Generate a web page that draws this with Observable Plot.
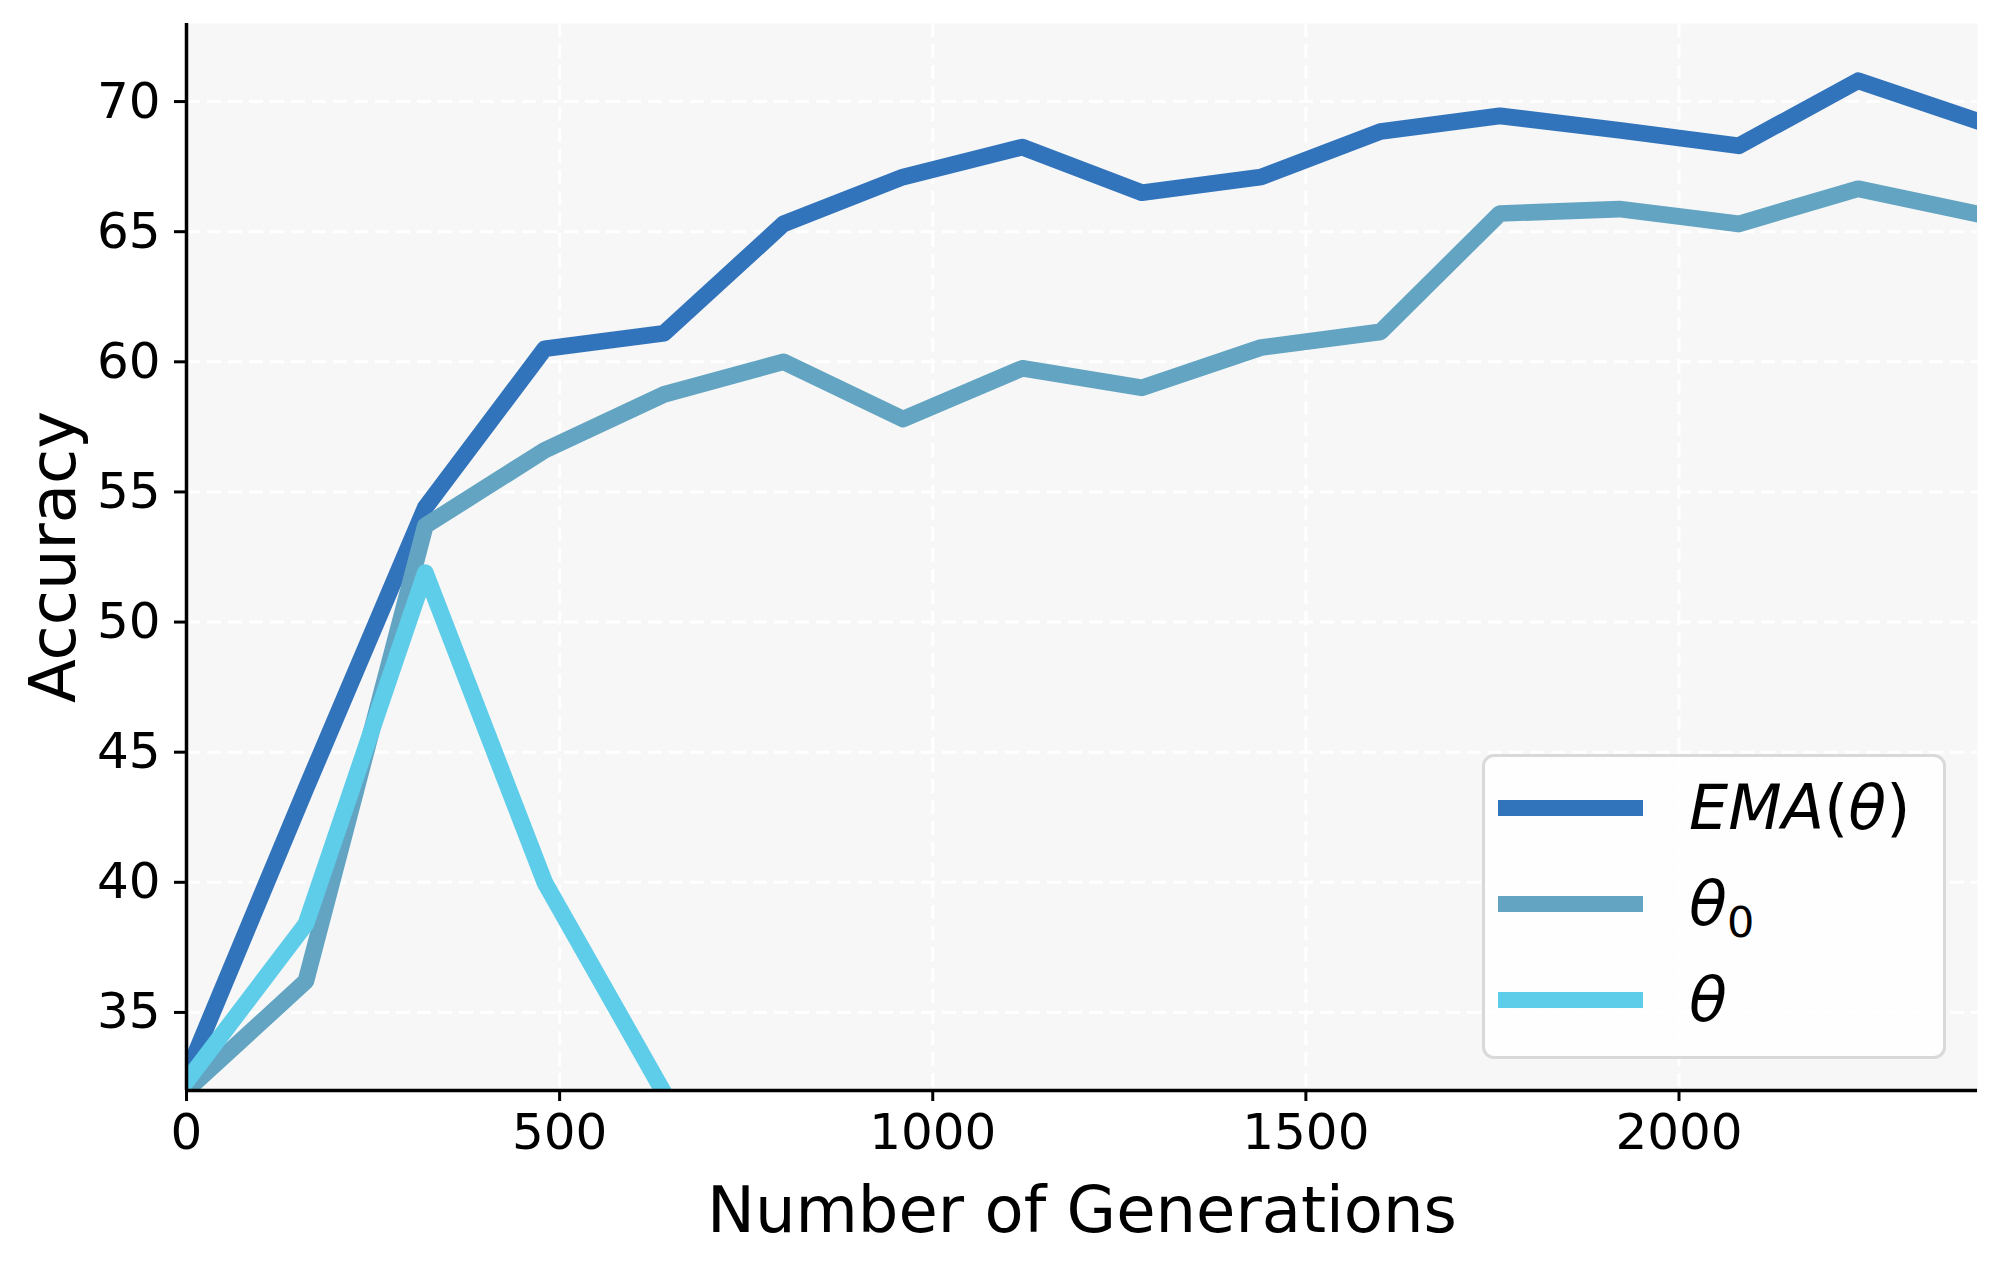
<!DOCTYPE html>
<html>
<head>
<meta charset="utf-8">
<script src="https://cdn.jsdelivr.net/npm/d3@7"></script>
<script src="https://cdn.jsdelivr.net/npm/@observablehq/plot@0.6"></script>
<style>
  html, body { margin: 0; padding: 0; background: #ffffff; }
  #wrap { position: relative; width: 2000px; height: 1261px; font-family: "DejaVu Sans", sans-serif; }
  #legend {
    position: absolute; left: 1482px; top: 754px; width: 464px; height: 305px;
    box-sizing: border-box; border: 3px solid #d9d9d9; border-radius: 12px;
    background: rgba(255,255,255,0.8);
  }
  .row { position: absolute; left: 0; height: 0; }
  .swatch { position: absolute; left: 13px; width: 145px; height: 16px; top: -8px; }
  .lab { position: absolute; left: 204px; top: -38px; font-size: 62px; line-height: 76px; white-space: nowrap; color: #000; }
  .lab i { font-style: italic; }
  .lab sub { font-size: 43px; vertical-align: -12px; line-height: 0; }
</style>
</head>
<body>
<div id="wrap"></div>
<script>
// ---- data ----
const generations = [0, 160, 320, 480, 640, 800, 960, 1120, 1280, 1440, 1600, 1760, 1920, 2080, 2240, 2400];
const emaTheta    = [32.6, 43.6, 54.4, 60.5, 61.1, 65.3, 67.1, 68.25, 66.5, 67.1, 68.85, 69.45, 68.9, 68.3, 70.8, 69.25];
const theta0      = [32.0, 36.2, 53.7, 56.6, 58.75, 60.0, 57.8, 59.75, 59.0, 60.55, 61.15, 65.7, 65.87, 65.3, 66.65, 65.68];
const thetaGens   = [0, 160, 320, 480, 640];
const theta       = [32.35, 38.4, 51.9, 40.0, 31.9];
const seriesNames = ["EMA(θ)", "θ0", "θ"];
const seriesColors = ["#3274bc", "#62a4c2", "#5ecde9"];
const xTicks = [0, 500, 1000, 1500, 2000];
const yTicks = [35, 40, 45, 50, 55, 60, 65, 70];

const rows = [];
generations.forEach((g, i) => rows.push({series: seriesNames[0], x: g, y: emaTheta[i]}));
generations.forEach((g, i) => rows.push({series: seriesNames[1], x: g, y: theta0[i]}));
thetaGens.forEach((g, i) => rows.push({series: seriesNames[2], x: g, y: theta[i]}));

const lineMarks = seriesNames.map((name, k) =>
  Plot.line(rows.filter(d => d.series === name), {
    x: "x", y: "y", stroke: seriesColors[k], strokeWidth: 16.7,
    strokeLinejoin: "round", strokeLinecap: "square", clip: true
  })
);

const chart = Plot.plot({
  width: 2000,
  height: 1261,
  marginLeft: 186,
  marginRight: 23,
  marginTop: 23,
  marginBottom: 171,
  style: { background: "#ffffff", fontFamily: "DejaVu Sans, sans-serif", fontSize: "50px", color: "#000" },
  x: { domain: [0, 2400] },
  y: { domain: [32, 73] },
  marks: [
    Plot.frame({ fill: "#f7f7f7", stroke: null }),
    Plot.gridX(xTicks, { stroke: "#ffffff", strokeOpacity: 1, strokeWidth: 3, strokeDasharray: "14,7" }),
    Plot.gridY(yTicks, { stroke: "#ffffff", strokeOpacity: 1, strokeWidth: 3, strokeDasharray: "14,7" }),
    ...lineMarks,
    Plot.axisX(xTicks, { tickSize: 11, tickPadding: 12, strokeWidth: 3, fontSize: 50, label: null, tickFormat: d => String(d) }),
    Plot.axisY(yTicks, { tickSize: 12, tickPadding: 14, strokeWidth: 3, fontSize: 50, label: null, tickFormat: d => String(d) }),
    Plot.ruleX([0], { stroke: "#000", strokeWidth: 3.5 }),
    Plot.ruleY([32], { stroke: "#000", strokeWidth: 3.5 }),
    Plot.text(["Number of Generations"], { frameAnchor: "bottom", lineAnchor: "middle", textAnchor: "middle", dy: 121, fontSize: 64, fill: "#000" }),
    Plot.text(["Accuracy"], { frameAnchor: "left", textAnchor: "middle", lineAnchor: "middle", dx: -132, rotate: -90, fontSize: 64, fill: "#000" })
  ]
});

const wrap = document.getElementById("wrap");
wrap.appendChild(chart);

// ---- legend ----
const legend = document.createElement("div");
legend.id = "legend";
const labelsHtml = [
  '<i>EMA</i>(<i>θ</i>)',
  '<i>θ</i><sub>0</sub>',
  '<i>θ</i>'
];
const rowTops = [54, 150, 246];
seriesNames.forEach((name, k) => {
  const r = document.createElement("div");
  r.className = "row";
  r.style.top = (rowTops[k] - 3) + "px";
  const sw = document.createElement("div");
  sw.className = "swatch";
  sw.style.background = seriesColors[k];
  const lb = document.createElement("div");
  lb.className = "lab";
  lb.innerHTML = labelsHtml[k];
  r.appendChild(sw);
  r.appendChild(lb);
  legend.appendChild(r);
});
wrap.appendChild(legend);
</script>
</body>
</html>
